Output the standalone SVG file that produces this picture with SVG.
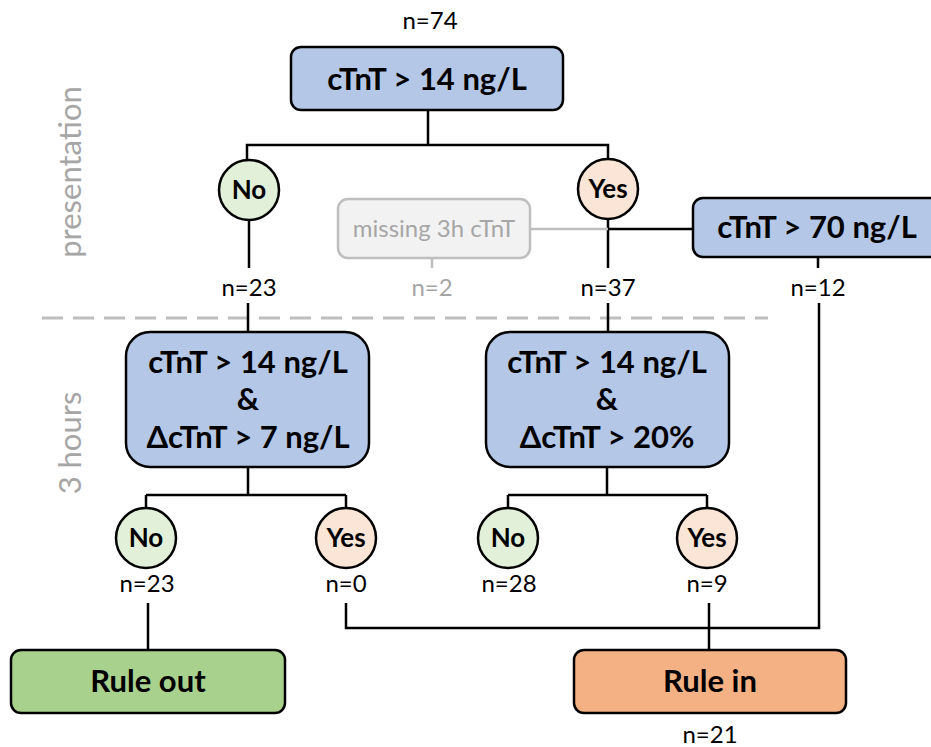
<svg xmlns="http://www.w3.org/2000/svg" width="931" height="747" viewBox="0 0 931 747">
<style>
.box{fill:#b4c7e7;stroke:#000;stroke-width:2.5}
.no{fill:#e2f0d9;stroke:#000;stroke-width:2.5}
.yes{fill:#fbe5d6;stroke:#000;stroke-width:2.5}
.out{fill:#a9d18e;stroke:#000;stroke-width:2.5}
.in{fill:#f4b183;stroke:#000;stroke-width:2.5}
.miss{fill:#f2f2f2;stroke:#bfbfbf;stroke-width:2.5}
.bt{font-family:Lato,"Liberation Sans",sans-serif;font-weight:bold;font-size:31px;text-anchor:middle;fill:#000}
.ct{font-family:Lato,"Liberation Sans",sans-serif;font-weight:bold;font-size:26px;text-anchor:middle;fill:#000}
.n{font-family:Lato,"Liberation Sans",sans-serif;font-size:24px;text-anchor:middle;fill:#000}
.g{fill:#a6a6a6}
.side{font-family:Lato,"Liberation Sans",sans-serif;font-size:31px;text-anchor:middle;fill:#a6a6a6}
.ln{stroke:#000;stroke-width:2.5;fill:none}
.gl{stroke:#bfbfbf;stroke-width:2.5;fill:none}
</style>
<g id="labels">
<text class="side" transform="translate(81,172) rotate(-90)">presentation</text>
<text class="side" transform="translate(81,443) rotate(-90)">3 hours</text>
<line x1="42" y1="318" x2="768" y2="318" stroke="#bfbfbf" stroke-width="3" stroke-dasharray="21 10"/>
</g>
<g id="connectors">
<path class="ln" d="M428 110V145M247 160V145H608V160"/>
<path class="ln" d="M249 220V268"/>
<path class="ln" d="M608 219V268M608 229H693"/>
<path class="gl" d="M530 229H608M432 258V268"/>
<path class="ln" d="M818 257V268M819 303V628H346V603M709 603V650"/>
<path class="ln" d="M248 303V332M608 303V332"/>
<path class="ln" d="M248 467V495M146 495H346M146 495V508M346 495V508"/>
<path class="ln" d="M607 467V495M508 495H707M508 495V508M707 495V508"/>
<path class="ln" d="M148 603V650"/>
</g>
<g id="n74"><text class="n" x="430" y="29">n=74</text></g>
<g id="root">
<rect class="box" x="291" y="47" width="272" height="63" rx="10"/>
<text class="bt" x="427" y="90">cTnT &gt; 14 ng/L</text>
</g>
<g id="no1"><circle class="no" cx="249" cy="190" r="30"/><text class="ct" x="249" y="199">No</text></g>
<g id="yes1"><circle class="yes" cx="608" cy="189" r="30"/><text class="ct" x="608" y="198">Yes</text></g>
<g id="missing">
<rect class="miss" x="338" y="199" width="192" height="59" rx="10"/>
<text class="n g" x="434" y="237">missing 3h cTnT</text>
</g>
<g id="box70">
<rect class="box" x="693" y="198" width="250" height="59" rx="10"/>
<text class="bt" x="817" y="238">cTnT &gt; 70 ng/L</text>
</g>
<g id="n23a"><text class="n" x="249" y="296">n=23</text></g>
<g id="n2"><text class="n g" x="432" y="296">n=2</text></g>
<g id="n37"><text class="n" x="608" y="296">n=37</text></g>
<g id="n12"><text class="n" x="818" y="296">n=12</text></g>
<g id="box3l">
<rect class="box" x="126" y="332" width="243" height="135" rx="24"/>
<text class="bt" x="248" y="373">cTnT &gt; 14 ng/L</text>
<text class="bt" x="248" y="410">&amp;</text>
<text class="bt" x="248" y="448">ΔcTnT &gt; 7 ng/L</text>
</g>
<g id="box3r">
<rect class="box" x="486" y="332" width="243" height="135" rx="24"/>
<text class="bt" x="607" y="373">cTnT &gt; 14 ng/L</text>
<text class="bt" x="607" y="410">&amp;</text>
<text class="bt" x="607" y="448">ΔcTnT &gt; 20%</text>
</g>
<g id="no2"><circle class="no" cx="146" cy="538" r="30"/><text class="ct" x="146" y="547">No</text></g>
<g id="yes2"><circle class="yes" cx="346" cy="538" r="30"/><text class="ct" x="346" y="547">Yes</text></g>
<g id="no3"><circle class="no" cx="508" cy="538" r="30"/><text class="ct" x="508" y="547">No</text></g>
<g id="yes3"><circle class="yes" cx="707" cy="538" r="30"/><text class="ct" x="707" y="547">Yes</text></g>
<g id="n23b"><text class="n" x="147" y="592">n=23</text></g>
<g id="n0"><text class="n" x="346" y="592">n=0</text></g>
<g id="n28"><text class="n" x="509" y="592">n=28</text></g>
<g id="n9"><text class="n" x="707" y="592">n=9</text></g>
<g id="ruleout">
<rect class="out" x="11" y="650" width="274" height="63" rx="10"/>
<text class="bt" x="148" y="692">Rule out</text>
</g>
<g id="rulein">
<rect class="in" x="574" y="650" width="272" height="63" rx="10"/>
<text class="bt" x="710" y="692">Rule in</text>
</g>
<g id="n21"><text class="n" x="710" y="743">n=21</text></g>
</svg>
